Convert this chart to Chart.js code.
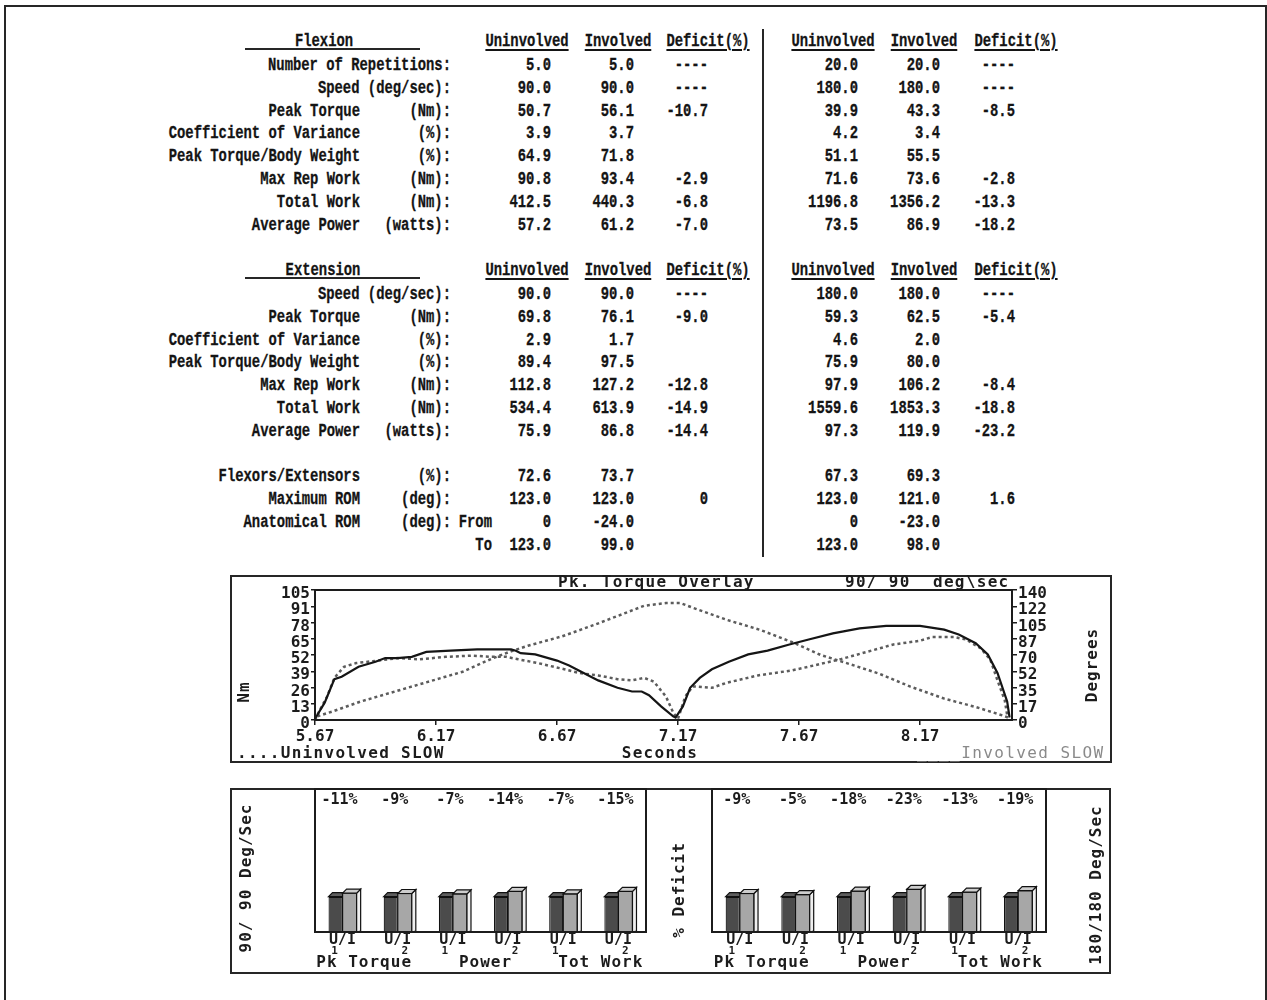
<!DOCTYPE html>
<html>
<head>
<meta charset="utf-8">
<script src="https://cdn.jsdelivr.net/npm/chart.js@4.4.1/dist/chart.umd.min.js"></script>
<style>
html, body { margin: 0; padding: 0; background: #fff; }
body { width: 1267px; height: 1000px; position: relative; overflow: hidden; }
.t { position: absolute; white-space: pre; line-height: 1; font-family: "Liberation Mono", monospace; font-weight: bold; font-size: 18px; color: #141414; transform-origin: 0 0; -webkit-text-stroke: 0.3px #141414; }
.u { text-decoration: underline; text-decoration-thickness: 2px; text-underline-offset: 3px; }
.box { position: absolute; border: 2px solid #262626; box-sizing: border-box; }
.rule { position: absolute; background: #262626; }
canvas { position: absolute; }
</style>
</head>
<body>
<div class="box" style="left:4px;top:5px;width:1263px;height:1010px;"></div>
<div class="rule" style="left:762px;top:29px;width:2px;height:528px;"></div>
<div class="rule" style="left:245px;top:48px;width:175px;height:2px;"></div>
<div class="rule" style="left:245px;top:277px;width:175px;height:2px;"></div>

<div class="box" style="left:230px;top:575px;width:882px;height:188px;"></div>
<canvas id="overlay" width="882" height="188" style="left:230px;top:575px;"></canvas>

<div class="box" style="left:230px;top:788px;width:881px;height:186px;"></div>
<canvas id="bars90" width="436" height="186" style="left:232px;top:788px;"></canvas>
<canvas id="bars180" width="439" height="186" style="left:670px;top:788px;"></canvas>

<script>
// ---- table text ----
const colHeads = ['Uninvolved', 'Involved', 'Deficit(%)'];

const flexLabels = ['Number of Repetitions:', 'Speed (deg/sec):', 'Peak Torque', 'Coefficient of Variance', 'Peak Torque/Body Weight', 'Max Rep Work', 'Total Work', 'Average Power'];
const flexUnits = ['', '', '(Nm):', '(%):', '(%):', '(Nm):', '(Nm):', '(watts):'];
const flexUninv90 = ['5.0', '90.0', '50.7', '3.9', '64.9', '90.8', '412.5', '57.2'];
const flexInv90 = ['5.0', '90.0', '56.1', '3.7', '71.8', '93.4', '440.3', '61.2'];
const flexDef90 = ['----', '----', '-10.7', '', '', '-2.9', '-6.8', '-7.0'];
const flexUninv180 = ['20.0', '180.0', '39.9', '4.2', '51.1', '71.6', '1196.8', '73.5'];
const flexInv180 = ['20.0', '180.0', '43.3', '3.4', '55.5', '73.6', '1356.2', '86.9'];
const flexDef180 = ['----', '----', '-8.5', '', '', '-2.8', '-13.3', '-18.2'];

const extLabels = ['Speed (deg/sec):', 'Peak Torque', 'Coefficient of Variance', 'Peak Torque/Body Weight', 'Max Rep Work', 'Total Work', 'Average Power', '', 'Flexors/Extensors', 'Maximum ROM', 'Anatomical ROM', ''];
const extUnits = ['', '(Nm):', '(%):', '(%):', '(Nm):', '(Nm):', '(watts):', '', '(%):', '(deg):', '(deg):', ''];
const extSub = ['', '', '', '', '', '', '', '', '', '', 'From', 'To'];
const extUninv90 = ['90.0', '69.8', '2.9', '89.4', '112.8', '534.4', '75.9', '', '72.6', '123.0', '0', '123.0'];
const extInv90 = ['90.0', '76.1', '1.7', '97.5', '127.2', '613.9', '86.8', '', '73.7', '123.0', '-24.0', '99.0'];
const extDef90 = ['----', '-9.0', '', '', '-12.8', '-14.9', '-14.4', '', '', '0', '', ''];
const extUninv180 = ['180.0', '59.3', '4.6', '75.9', '97.9', '1559.6', '97.3', '', '67.3', '123.0', '0', '123.0'];
const extInv180 = ['180.0', '62.5', '2.0', '80.0', '106.2', '1853.3', '119.9', '', '69.3', '121.0', '-23.0', '98.0'];
const extDef180 = ['----', '-5.4', '', '', '-8.4', '-18.8', '-23.2', '', '', '1.6', '', ''];

// ---- torque overlay ----
const chartTitle = 'Pk. Torque Overlay';
const speedLabel = '90/ 90';
const speedUnit = 'deg\\sec';
const xTitle = 'Seconds';
const yLeftTitle = 'Nm';
const yRightTitle = 'Degrees';
const legendUninv = 'Uninvolved SLOW';
const legendInv = 'Involved SLOW';
const secTicks = ['5.67', '6.17', '6.67', '7.17', '7.67', '8.17'];
const nmTicks = ['0', '13', '26', '39', '52', '65', '78', '91', '105'];
const degTicks = ['0', '17', '35', '52', '70', '87', '105', '122', '140'];

const tInvolved = [5.67, 5.71, 5.75, 5.78, 5.85, 5.92, 5.96, 6.01, 6.07, 6.13, 6.23, 6.34, 6.48, 6.50, 6.52, 6.58, 6.67, 6.72, 6.78, 6.84, 6.92, 6.98, 7.02, 7.05, 7.10, 7.15, 7.16, 7.19, 7.22, 7.26, 7.31, 7.38, 7.46, 7.54, 7.63, 7.71, 7.81, 7.92, 8.03, 8.17, 8.27, 8.33, 8.40, 8.45, 8.49, 8.53, 8.54];
const nmInvolved = [1, 14, 33, 35, 43, 47, 50, 50, 51, 55, 56, 57, 57, 56, 54, 53, 48, 44, 38, 32, 26, 23, 23, 20, 11, 3, 2, 11, 26, 34, 41, 47, 53, 56, 61, 65, 70, 74, 76, 76, 73, 69, 62, 53, 38, 15, 2];

const tUninv = [5.67, 5.69, 5.72, 5.75, 5.79, 5.84, 5.93, 6.01, 6.10, 6.21, 6.32, 6.40, 6.46, 6.51, 6.59, 6.70, 6.76, 6.84, 6.92, 6.98, 7.03, 7.07, 7.12, 7.15, 7.17, 7.20, 7.23, 7.25, 7.31, 7.37, 7.50, 7.64, 7.73, 7.84, 7.95, 8.06, 8.17, 8.22, 8.31, 8.36, 8.42, 8.46, 8.49, 8.52, 8.53];
const nmUninv = [0, 8, 19, 34, 43, 46, 48, 50, 49, 51, 52, 51, 51, 49, 46, 41, 38, 36, 33, 32, 34, 31, 19, 6, 1, 19, 27, 27, 26, 30, 36, 40, 44, 49, 55, 61, 64, 67, 67, 65, 58, 49, 32, 16, 4];

const tAngle = [5.68, 5.74, 5.86, 6.07, 6.28, 6.40, 6.48, 6.55, 6.69, 6.83, 6.97, 7.03, 7.12, 7.18, 7.23, 7.37, 7.51, 7.65, 7.76, 7.87, 8.00, 8.13, 8.27, 8.40, 8.51, 8.54];
const degAngle = [4, 9, 20, 36, 52, 66, 74, 80, 90, 103, 117, 123, 126, 126, 121, 108, 97, 83, 70, 61, 50, 36, 23, 14, 5, 2];

// ---- deficit bars ----
const barCats = ['Pk Torque 1', 'Pk Torque 2', 'Power 1', 'Power 2', 'Tot Work 1', 'Tot Work 2'];
const barPair = 'U/I';
const barNums = ['1', '2', '1', '2', '1', '2'];
const barGroups = ['Pk Torque', 'Power', 'Tot Work'];
const uninv90 = [100, 100, 100, 100, 100, 100];
const inv90 = [110, 109, 108, 115, 108, 115];
const def90 = [-11, -9, -7, -14, -7, -15];
const uninv180 = [100, 100, 100, 100, 100, 100];
const inv180 = [109, 106, 116, 121, 113, 117];
const def180 = [-9, -5, -18, -23, -13, -19];

const INK = '#1c1c1c';
const MONO = '"DejaVu Sans Mono", monospace';
const SX = 0.77;

// place a piece of table text; x is the anchor, y the vertical centre
function put(text, x, y, align, cls) {
    if (!text) return;
    const s = document.createElement('span');
    s.className = 't' + (cls ? ' ' + cls : '');
    s.textContent = text;
    s.style.left = x + 'px';
    s.style.top = y + 'px';
    const tx = align === 'right' ? '-100%' : align === 'center' ? '-50%' : '0';
    s.style.transform = `scaleX(${SX}) translate(${tx}, -50%)`;
    document.body.appendChild(s);
}

const headX = [527, 618, 708, 833, 924, 1016];
const valX = [551, 634, 708, 858, 940, 1015];

function headers(y) {
    headX.forEach((x, i) => put(colHeads[i % 3], x, y, 'center', 'u'));
}

put('Flexion', 324, 41, 'center');
headers(41);
flexLabels.forEach((lab, i) => {
    const y = 65 + i * 22.8;
    if (flexUnits[i]) {
        put(lab, 360, y, 'right');
        put(flexUnits[i], 451, y, 'right');
    } else {
        put(lab, 451, y, 'right');
    }
    [flexUninv90, flexInv90, flexDef90, flexUninv180, flexInv180, flexDef180]
        .forEach((col, c) => put(col[i], valX[c], y, 'right'));
});

put('Extension', 323, 270, 'center');
headers(270);
extLabels.forEach((lab, i) => {
    const y = 294 + i * 22.8;
    if (extUnits[i]) {
        put(lab, 360, y, 'right');
        put(extUnits[i], 451, y, 'right');
    } else {
        put(lab, 451, y, 'right');
    }
    put(extSub[i], 492, y, 'right');
    [extUninv90, extInv90, extDef90, extUninv180, extInv180, extDef180]
        .forEach((col, c) => put(col[i], valX[c], y, 'right'));
});

// ---- overlay chart ----
const xy = (ts, vs) => ts.map((t, i) => ({ x: t, y: vs[i] }));
const tickFont = { family: MONO, size: 16, weight: 'bold' };

function rotText(ctx, text, x, y) {
    ctx.save();
    ctx.translate(x, y);
    ctx.rotate(-Math.PI / 2);
    ctx.textAlign = 'center';
    ctx.fillText(text, 0, 0);
    ctx.restore();
}

const overlayText = {
    id: 'overlayText',
    afterDraw(chart) {
        const { ctx, chartArea: a } = chart;
        ctx.save();
        ctx.lineWidth = 2;
        ctx.strokeStyle = INK;
        ctx.strokeRect(a.left, a.top, a.right - a.left, a.bottom - a.top);
        ctx.fillStyle = INK;
        ctx.textBaseline = 'middle';
        ctx.font = `bold 16px ${MONO}`;
        ctx.letterSpacing = '1.3px';
        ctx.textAlign = 'left';
        ctx.fillText(chartTitle, 328, 8);
        ctx.fillText(speedLabel, 615, 8);
        ctx.fillText(speedUnit, 703, 8);
        ctx.fillText('....' + legendUninv, 7, 179);
        ctx.textAlign = 'center';
        ctx.fillText(xTitle, 430, 179);
        ctx.letterSpacing = '1px';
        rotText(ctx, yLeftTitle, 15, 117);
        rotText(ctx, yRightTitle, 863, 90);
        ctx.textAlign = 'left';
        ctx.fillStyle = '#8a8a8a';
        ctx.font = `16px ${MONO}`;
        ctx.letterSpacing = '1.4px';
        ctx.fillText('____' + legendInv, 687, 179);
        ctx.restore();
    }
};

const axisCommon = {
    grid: { drawOnChartArea: false, color: INK, lineWidth: 1.5 },
    border: { color: INK, width: 2 },
};

new Chart(document.getElementById('overlay'), {
    type: 'line',
    data: {
        datasets: [
            { label: legendInv, data: xy(tInvolved, nmInvolved), borderColor: '#151515', borderWidth: 2.2, pointRadius: 0, tension: 0, yAxisID: 'y' },
            { label: legendUninv, data: xy(tUninv, nmUninv), borderColor: '#5c5c5c', borderWidth: 2.5, borderDash: [3, 3], pointRadius: 0, tension: 0, yAxisID: 'y' },
            { label: 'Angle', data: xy(tAngle, degAngle), borderColor: '#5c5c5c', borderWidth: 2.5, borderDash: [3, 3], pointRadius: 0, tension: 0, yAxisID: 'y2' },
        ]
    },
    options: {
        responsive: false,
        animation: false,
        events: [],
        layout: { padding: { top: 15, left: 0, right: 0, bottom: 0 } },
        plugins: { legend: { display: false }, tooltip: { enabled: false } },
        scales: {
            x: {
                type: 'linear', min: 5.67, max: 8.55,
                afterFit: s => { s.height = 43; },
                afterBuildTicks: s => { s.ticks = secTicks.map(v => ({ value: parseFloat(v) })); },
                ticks: { callback: (v, i) => secTicks[i], font: tickFont, color: INK, padding: 2, maxRotation: 0, autoSkip: false },
                grid: { ...axisCommon.grid, tickLength: 5 },
                border: axisCommon.border,
            },
            y: {
                position: 'left', min: 0, max: 105,
                afterFit: s => { s.width = 85; },
                afterBuildTicks: s => { s.ticks = nmTicks.map((v, i) => ({ value: i * 105 / (nmTicks.length - 1) })); },
                ticks: { callback: (v, i) => nmTicks[i], font: tickFont, color: INK, padding: 1, labelOffset: 4, autoSkip: false },
                grid: { ...axisCommon.grid, tickLength: 4 },
                border: axisCommon.border,
            },
            y2: {
                position: 'right', min: 0, max: 140,
                afterFit: s => { s.width = 100; },
                afterBuildTicks: s => { s.ticks = degTicks.map((v, i) => ({ value: i * 140 / (degTicks.length - 1) })); },
                ticks: { callback: (v, i) => degTicks[i], font: tickFont, color: INK, padding: 1, labelOffset: 4, autoSkip: false },
                grid: { ...axisCommon.grid, tickLength: 5 },
                border: axisCommon.border,
            },
        }
    },
    plugins: [overlayText]
});

// ---- bar charts ----
const DX = 4, DY = 4;

function poly(ctx, pts, fill) {
    ctx.beginPath();
    ctx.moveTo(pts[0][0], pts[0][1]);
    pts.slice(1).forEach(p => ctx.lineTo(p[0], p[1]));
    ctx.closePath();
    ctx.fillStyle = fill;
    ctx.fill();
    ctx.stroke();
}

// fake 3d caps on the bars, using the bar elements laid out by chart.js
const bar3d = {
    id: 'bar3d',
    afterDatasetsDraw(chart) {
        const ctx = chart.ctx;
        const dark = chart.getDatasetMeta(0).data;
        const light = chart.getDatasetMeta(1).data;
        const dsL = chart.data.datasets[1];
        ctx.save();
        ctx.lineWidth = 1.2;
        ctx.strokeStyle = '#111';
        dark.forEach((el, i) => {
            const a = el.getProps(['x', 'y', 'base', 'width'], true);
            const b = light[i].getProps(['x', 'y', 'base', 'width'], true);
            const al = a.x - a.width / 2, ar = a.x + a.width / 2;
            const bl = b.x - b.width / 2, br = b.x + b.width / 2;
            poly(ctx, [[al, a.y], [al + DX, a.y - DY], [ar + DX, a.y - DY], [ar, a.y]], '#5e5e5e');
            ctx.fillStyle = dsL.backgroundColor;
            ctx.fillRect(bl, b.y, b.width, b.base - b.y);
            ctx.strokeRect(bl, b.y, b.width, b.base - b.y);
            poly(ctx, [[br, b.y], [br + DX, b.y - DY], [br + DX, b.base - 1], [br, b.base]], '#efefef');
            poly(ctx, [[bl, b.y], [bl + DX, b.y - DY], [br + DX, b.y - DY], [br, b.y]], '#cdcdcd');
        });
        ctx.restore();
    }
};

const barText = {
    id: 'barText',
    afterDraw(chart, args, opts) {
        const { ctx, chartArea: a } = chart;
        const xs = chart.scales.x;
        ctx.save();
        ctx.lineWidth = 2;
        ctx.strokeStyle = INK;
        ctx.strokeRect(a.left, a.top, a.right - a.left, a.bottom - a.top);
        ctx.fillStyle = INK;
        ctx.textBaseline = 'middle';
        ctx.textAlign = 'center';
        barCats.forEach((c, i) => {
            const cx = xs.getPixelForValue(i);
            ctx.font = `bold 15px ${MONO}`;
            ctx.letterSpacing = '0px';
            ctx.fillText(opts.deficits[i] + '%', cx - 3, 12);
            ctx.font = `bold 15px ${MONO}`;
            ctx.fillText(barPair, cx, 152);
            ctx.font = `bold 11px ${MONO}`;
            ctx.fillText(barNums[i], cx + (barNums[i] === '1' ? -8 : 7), 163);
        });
        ctx.font = `bold 16px ${MONO}`;
        ctx.letterSpacing = '1px';
        const shift = [-6, 5, 10];
        barGroups.forEach((g, k) => {
            const cx = (xs.getPixelForValue(2 * k) + xs.getPixelForValue(2 * k + 1)) / 2 + shift[k];
            ctx.fillText(g, cx, 175);
        });
        opts.side.forEach(s => rotText(ctx, s.text, s.x, s.y));
        ctx.restore();
    }
};

function barChart(id, uninv, inv, deficits, padding, side) {
    return new Chart(document.getElementById(id), {
        type: 'bar',
        data: {
            labels: barCats,
            datasets: [
                { label: 'Uninvolved', data: uninv, backgroundColor: '#4b4b4b', borderColor: '#111', borderWidth: 1.2, categoryPercentage: 0.51, barPercentage: 1 },
                { label: 'Involved', data: inv, backgroundColor: '#a7a7a7', borderColor: '#111', borderWidth: 1.2, categoryPercentage: 0.51, barPercentage: 1 },
            ]
        },
        options: {
            responsive: false,
            animation: false,
            events: [],
            layout: { padding },
            plugins: { legend: { display: false }, tooltip: { enabled: false }, barText: { deficits, side } },
            scales: {
                x: { display: false },
                y: { display: false, min: 0, max: 405 },
            }
        },
        plugins: [bar3d, barText]
    });
}

barChart('bars90', uninv90, inv90, def90, { left: 83, right: 22, top: 1, bottom: 42 },
    [{ text: '90/ 90 Deg/Sec', x: 15, y: 90 }]);
barChart('bars180', uninv180, inv180, def180, { left: 42, right: 63, top: 1, bottom: 42 },
    [{ text: '% Deficit', x: 10, y: 102 }, { text: '180/180 Deg/Sec', x: 427, y: 97 }]);
</script>
</body>
</html>
